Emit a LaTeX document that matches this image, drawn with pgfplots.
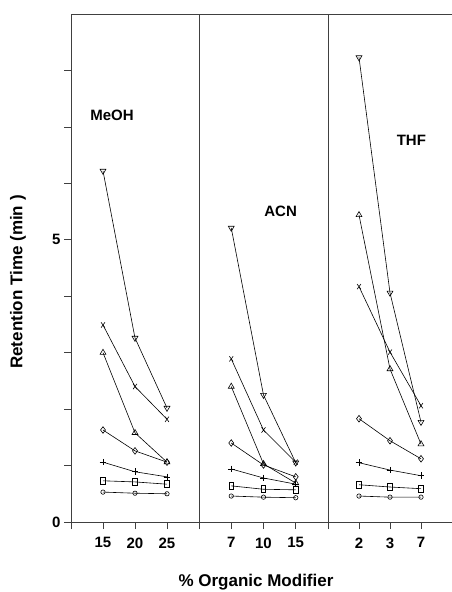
\documentclass[border=0pt]{standalone}
\usepackage{fontspec}
\setmainfont{Liberation Sans}
\usepackage{pgfplots}
\pgfplotsset{compat=1.18}

\tikzset{
  s1/.style={mark=triangle, mark size=3.4pt, mark options={solid, fill=white, rotate=180}},
  s2/.style={mark=x, mark size=3.4pt, mark options={solid, xscale=0.8, yscale=1.1}},
  s3/.style={mark=triangle, mark size=3.4pt, mark options={solid, fill=white}},
  s4/.style={mark=diamond, mark size=3.3pt, mark options={solid, fill=white}},
  s5/.style={mark=+, mark size=3.3pt, mark options={solid}},
  s6/.style={mark=square, mark size=2.6pt, mark options={solid, fill=white, yscale=1.35, xscale=0.85}},
  s7/.style={mark=o, mark size=2.2pt, mark options={solid, fill=white}},
  lbl/.style={font=\bfseries\fontsize{15}{17}\selectfont},
}

\pgfplotsset{
  panel/.style={
    scale only axis, height=508pt,
    xmin=0, xmax=4, ymin=0, ymax=9,
    xtick={0,...,4}, ytick=\empty,
    xtick pos=bottom, ytick pos=left,
    tick align=outside, major tick length=7pt,
    axis line style={line width=0.6pt, black!75},
    tick style={line width=0.6pt, black!75},
    /pgf/number format/assume math mode=true,
    tick label style={font=\bfseries\fontsize{15}{17}\selectfont},
    xticklabel style={yshift=-5pt},
    clip=false,
    every axis plot/.append style={black, line width=0.6pt},
  },
}

\begin{document}
\begin{tikzpicture}
\useasboundingbox (-71pt,-70pt) rectangle (381pt,522pt);

% MeOH
\begin{axis}[panel, width=128pt, at={(0pt,0pt)}, anchor=south west,
  xticklabels={,15,20,25,},
  ytick={0,...,8}, yticklabels={0,,,,,5,,,}]
\addplot[s1] coordinates {(1,6.22) (2,3.26) (3,2.02)};
\addplot[s2] coordinates {(1,3.49) (2,2.40) (3,1.82)};
\addplot[s3] coordinates {(1,3.00) (2,1.58) (3,1.06)};
\addplot[s4] coordinates {(1,1.63) (2,1.26) (3,1.06)};
\addplot[s5] coordinates {(1,1.06) (2,0.89) (3,0.80)};
\addplot[s6] coordinates {(1,0.73) (2,0.71) (3,0.67)};
\addplot[s7] coordinates {(1,0.53) (2,0.51) (3,0.50)};
\node[lbl] at (axis cs:1.28,7.2) {MeOH};
\end{axis}

% ACN
\begin{axis}[panel, width=129pt, at={(128pt,0pt)}, anchor=south west,
  xticklabels={,7,10,15,}]
\addplot[s1] coordinates {(1,5.21) (2,2.25) (3,1.05)};
\addplot[s2] coordinates {(1,2.89) (2,1.63) (3,1.06)};
\addplot[s3] coordinates {(1,2.40) (2,1.03) (3,0.69)};
\addplot[s4] coordinates {(1,1.40) (2,1.01) (3,0.80)};
\addplot[s5] coordinates {(1,0.94) (2,0.78) (3,0.67)};
\addplot[s6] coordinates {(1,0.64) (2,0.58) (3,0.57)};
\addplot[s7] coordinates {(1,0.46) (2,0.44) (3,0.43)};
\node[lbl] at (axis cs:2.53,5.5) {ACN};
\end{axis}

% THF
\begin{axis}[panel, width=124pt, at={(257pt,0pt)}, anchor=south west,
  axis x line*=bottom, axis y line*=left,
  xticklabels={,2,3,7,}]
\addplot[s1] coordinates {(1,8.23) (2,4.06) (3,1.77)};
\addplot[s2] coordinates {(1,4.17) (2,3.01) (3,2.06)};
\addplot[s3] coordinates {(1,5.44) (2,2.71) (3,1.38)};
\addplot[s4] coordinates {(1,1.83) (2,1.44) (3,1.12)};
\addplot[s5] coordinates {(1,1.05) (2,0.92) (3,0.82)};
\addplot[s6] coordinates {(1,0.66) (2,0.62) (3,0.59)};
\addplot[s7] coordinates {(1,0.46) (2,0.44) (3,0.44)};
\draw[line width=0.6pt, black!75] (rel axis cs:0,1) -- (rel axis cs:1,1);
\node[lbl] at (axis cs:2.69,6.76) {THF};
\end{axis}

\node[font=\bfseries\fontsize{17}{19}\selectfont, rotate=90] at (-53pt,240pt) {Retention Time (min )};
\node[font=\bfseries\fontsize{17}{19}\selectfont] at (185pt,-60pt) {\% Organic Modifier};
\end{tikzpicture}
\end{document}
